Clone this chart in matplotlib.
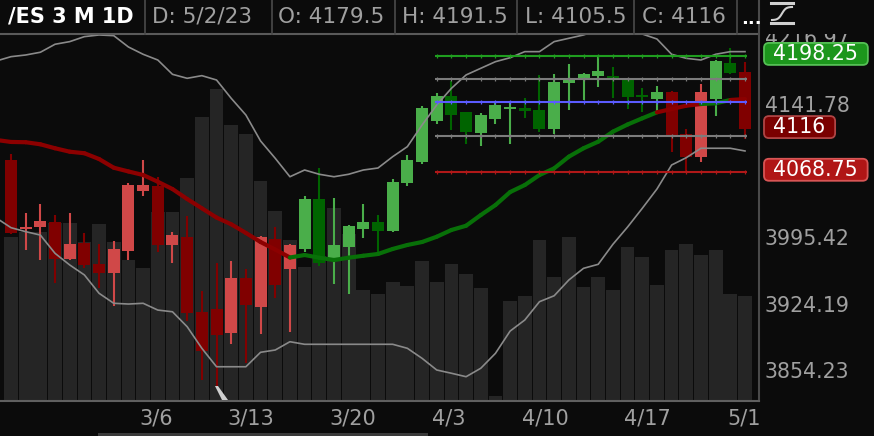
import numpy as np
import matplotlib
matplotlib.use("Agg")
import matplotlib.pyplot as plt
from matplotlib.collections import LineCollection
from matplotlib.patches import Rectangle, FancyBboxPatch, Polygon
from matplotlib.lines import Line2D
from matplotlib.transforms import IdentityTransform, blended_transform_factory, Bbox

# ---------------- data ----------------
symbol = "/ES 3 M 1D"
last_date = "5/2/23"

opens = [4081.7, 4005.9, 4008.1, 4014.1, 3973.7, 3991.3, 3968.8, 3958.7, 3982.3, 4047.6,
         4053.5, 3988.5, 3997.2, 3917.5, 3920.1, 3895.0, 3953.7, 3922.2, 3995.0, 3962.7,
         3984.2, 4038.6, 3975.1, 3986.3, 4005.9, 4014.1, 4004.0, 4056.4, 4079.8, 4124.7,
         4153.3, 4135.1, 4111.3, 4127.2, 4138.8, 4139.9, 4137.6, 4115.8, 4167.3, 4173.6,
         4175.9, 4175.9, 4172.1, 4153.8, 4149.3, 4157.8, 4110.5, 4085.0, 4149.3, 4189.9, 4179.5]
highs = [4088.0, 4024.0, 4033.2, 4021.4, 4024.0, 4002.2, 3989.6, 3993.5, 4056.4, 4081.4,
         4063.3, 4002.6, 4020.0, 3939.5, 3969.7, 3971.9, 3963.3, 3998.3, 4008.4, 3989.6,
         4041.9, 4072.5, 4039.7, 4010.3, 4033.2, 4021.4, 4060.8, 4087.2, 4141.4, 4156.4,
         4170.2, 4135.6, 4133.9, 4145.5, 4145.5, 4150.4, 4176.7, 4177.5, 4188.8, 4179.3,
         4197.8, 4186.0, 4173.5, 4161.7, 4163.9, 4158.5, 4116.1, 4166.5, 4193.3, 4206.9, 4191.5]
lows = [4000.5, 3983.4, 3972.3, 3947.7, 3972.5, 3964.4, 3943.0, 3923.6, 3972.3, 4041.9,
        3980.9, 3969.7, 3908.0, 3845.9, 3837.9, 3883.1, 3863.9, 3894.0, 3931.7, 3896.4,
        3981.2, 3966.2, 3947.0, 3936.3, 3996.1, 3981.2, 4003.0, 4053.1, 4077.3, 4121.7,
        4114.6, 4099.1, 4097.2, 4121.3, 4099.1, 4128.0, 4112.4, 4110.2, 4137.0, 4148.2,
        4163.5, 4150.4, 4138.4, 4134.7, 4135.4, 4090.2, 4068.8, 4079.2, 4130.3, 4177.5, 4105.5]
closes = [4001.5, 4008.4, 4014.6, 3973.7, 3990.3, 3967.3, 3958.7, 3984.2, 4053.9, 4053.9,
          3988.8, 3999.4, 3915.8, 3876.1, 3892.9, 3953.7, 3924.6, 3997.2, 3945.9, 3988.5,
          4038.9, 3969.7, 3988.5, 4009.8, 4014.1, 4004.0, 4057.8, 4082.0, 4139.9, 4153.3,
          4131.7, 4113.1, 4131.4, 4142.6, 4141.0, 4136.2, 4115.8, 4169.1, 4171.4, 4178.1,
          4180.8, 4172.5, 4151.9, 4151.5, 4157.8, 4109.4, 4085.4, 4157.8, 4192.5, 4178.6, 4116.0]
trend = list("RRRRRRRRRRRRRRRRRRRR" "GGGGGGGGGGGGGGGGGGGGGGGGG" "RRR" "GG" "R")
volume = [1306, 1352, 1352, 1422, 1422, 1270, 1416, 1270, 1128, 1062,
          1504, 1504, 1782, 2262, 2488, 2202, 2134, 1754, 1514, 1288,
          1072, 1154, 1542, 1336, 888, 856, 952, 920, 1114, 952,
          1096, 1016, 902, 42, 794, 840, 1288, 986, 1306, 906,
          986, 888, 1226, 1146, 922, 1208, 1256, 1162, 1208, 856, 840]
# studies start one bar before the first visible candle
ma = [4103.9, 4101.7, 4101.4, 4099.1, 4094.7, 4090.9, 4089.2, 4082.8, 4073.2, 4069.1, 4065.2,
      4057.8, 4049.8, 4038.9, 4028.8, 4018.7, 4011.4, 4002.0, 3992.2, 3984.1, 3975.5,
      3978.2, 3975.3, 3972.8, 3975.3, 3977.4, 3979.3, 3984.7, 3989.0, 3992.2, 3997.9,
      4005.2, 4009.8, 4021.4, 4032.3, 4046.5, 4054.2, 4065.2, 4072.5, 4085.4, 4094.7,
      4102.0, 4113.1, 4121.1, 4128.0, 4134.7, 4138.4, 4142.1, 4144.0, 4144.8, 4148.5, 4149.6]
bb_upper = [4192.5, 4197.4, 4199.3, 4202.4, 4211.5, 4214.5, 4220.2, 4222.1, 4221.3, 4208.4, 4200.1,
            4193.6, 4177.4, 4172.9, 4175.9, 4171.0, 4150.4, 4131.7, 4102.8, 4083.6, 4063.3,
            4070.7, 4066.0, 4063.3, 4066.0, 4070.7, 4072.9, 4085.4, 4096.5, 4120.5, 4142.9,
            4161.6, 4176.7, 4184.2, 4191.7, 4196.2, 4203.1, 4203.1, 4214.5, 4218.3, 4222.1,
            4227.8, 4230.1, 4229.0, 4223.2, 4217.5, 4200.1, 4195.5, 4193.6, 4200.1, 4203.1, 4203.1]
bb_lower = [4018.2, 4007.7, 4003.4, 3999.7, 3980.0, 3967.5, 3956.8, 3937.2, 3926.6, 3925.8, 3926.6,
            3919.4, 3917.6, 3901.8, 3879.1, 3859.8, 3859.8, 3859.8, 3874.9, 3877.3, 3886.0,
            3883.3, 3883.3, 3883.3, 3883.3, 3883.3, 3883.3, 3883.3, 3879.1, 3868.6, 3856.4,
            3853.0, 3849.4, 3858.2, 3873.8, 3897.2, 3908.9, 3928.3, 3934.6, 3951.4, 3963.9,
            3968.2, 3989.7, 4008.4, 4028.7, 4049.8, 4076.2, 4084.3, 4094.7, 4094.7, 4094.7, 4091.7]
level_values = [4198.25, 4172.25, 4146.0, 4108.0, 4068.75]
level_from_bar = 29
price_ticks = [4216.97, 4141.78, 3995.42, 3924.19, 3854.23]
tag_values = [4198.25, 4116.0, 4068.75]
tag_texts = ["4198.25", "4116", "4068.75"]
date_labels = ["3/6", "3/13", "3/20", "4/3", "4/10", "4/17", "5/1"]
date_label_pos = [9.88, 16.35, 23.3, 29.84, 36.38, 43.33, 49.93]
price_top, price_bottom = 4223.2, 3824.2
volume_top = 2928

# ---------------- style / layout ----------------
W, H = 874, 436
BG = "#0b0b0b"
PL, PR, PT, PB = 0, 758, 34, 401
BAR0_X, BAR_STEP = 11.0, 14.68
LR, DR, LG, DG = "#d04848", "#800000", "#4aae4a", "#006400"
MA_R, MA_G = "#8c0000", "#087008"
level_colors = ["#1f9d1f", "#7c7c7c", "#5b5bff", "#7c7c7c", "#b01818"]
tag_fc = ["#1c961c", "#7a0000", "#b01616"]
tag_ec = ["#55c055", "#b04545", "#d85555"]
GRAY_TXT = "#a0a0a0"
FONT = "DejaVu Sans"


def fy(y):
    return (H - y) / H


def fx(x):
    return x / W


fig = plt.figure(figsize=(W / 100, H / 100), dpi=100, facecolor=BG)
rect = [fx(PL), fy(PB), fx(PR - PL), (PB - PT) / H]
ax_vol = fig.add_axes(rect, zorder=0)
ax = fig.add_axes(rect, zorder=1)
n = len(closes)
idx = np.arange(n)
xlim = ((PL - BAR0_X) / BAR_STEP, (PR - BAR0_X) / BAR_STEP)
for a in (ax_vol, ax):
    a.set_xlim(*xlim)
    a.set_axis_off()
ax_vol.set_ylim(0, volume_top)
ax.set_yscale("log")
ax.set_ylim(price_bottom, price_top)

# volume
ax_vol.bar(idx, volume, width=0.94, color="#252525", linewidth=0)

# candles
for i in range(n):
    o, h, l, c = opens[i], highs[i], lows[i], closes[i]
    up = c >= o
    if trend[i] == "G":
        col = LG if up else DG
    else:
        col = LR if up else DR
    ax.vlines(i, l, h, color=col, lw=1.5, zorder=2)
    lo, hi = min(o, c), max(o, c)
    if hi - lo < 1.8:
        mid = (hi + lo) / 2
        lo, hi = mid - 0.9, mid + 0.9
    ax.add_patch(Rectangle((i - 0.41, lo), 0.82, hi - lo, facecolor=col,
                           edgecolor="none", zorder=2.1))

# bollinger bands + middle line
xs = np.arange(-1, n)
ax.plot(xs, bb_upper, color="#8a8a8a", lw=1.2, zorder=3)
ax.plot(xs, bb_lower, color="#8a8a8a", lw=1.2, zorder=3)
segs = [[(xs[k], ma[k]), (xs[k + 1], ma[k + 1])] for k in range(n)]
seg_cols = [MA_G if trend[k] == "G" else MA_R for k in range(n)]
ax.add_collection(LineCollection(segs, colors=seg_cols, linewidths=3.0,
                                 capstyle="round", zorder=3.5))

# level lines
for v, col in zip(level_values, level_colors):
    ax.hlines(v, level_from_bar - 0.12, n - 1 + 0.15, color=col, lw=1.5, zorder=4)
    ax.plot(np.arange(level_from_bar, n), [v] * (n - level_from_bar), ls="none",
            marker="|", ms=3.0, mew=0.9, color=col, zorder=4)

# price tags (positions first, to clip the partly hidden top label)
renderer = fig.canvas.get_renderer()
tag_tops = []
for v, s, fc, ec in zip(tag_values, tag_texts, tag_fc, tag_ec):
    yc = ax.transData.transform((0, v))[1] + 2
    tag_tops.append(yc + 11)
    t = fig.text(773.5, yc, s, transform=IdentityTransform(), color="white",
                 fontsize=14.8, ha="left", va="center", family=FONT, zorder=4.6)
    bb = t.get_window_extent(renderer)
    fig.add_artist(FancyBboxPatch((764, yc - 11), bb.width + 19, 22,
                                  boxstyle="round,pad=0,rounding_size=5",
                                  facecolor=fc, edgecolor=ec, lw=1.3,
                                  transform=IdentityTransform(), zorder=4.5))

# right price labels (visible strip only: between header and top tag)
ytrans = blended_transform_factory(fig.transFigure, ax.transData)
visible = Bbox.from_extents(759, max(tag_tops) + 0.5, W, H - PT)
for v in price_ticks:
    t = fig.text(fx(765), v, f"{v:.2f}", transform=ytrans, color=GRAY_TXT, fontsize=14.8,
                 ha="left", va="center", family=FONT, zorder=3)
    if ax.transData.transform((0, v))[1] > max(tag_tops):
        t.set_clip_box(visible)
        t.set_clip_on(True)

# header
fig.add_artist(Rectangle((0, fy(PT)), 1, PT / H, transform=fig.transFigure,
                         facecolor=BG, edgecolor="none", zorder=5))
fig.add_artist(Line2D([0, fx(PR)], [fy(PT)] * 2, transform=fig.transFigure,
                      color="#5a5a5a", lw=1.5, zorder=6))
for sx in [145, 271.5, 394.6, 517, 634, 737]:
    fig.add_artist(Line2D([fx(sx)] * 2, [fy(0), fy(PT)], transform=fig.transFigure,
                          color="#4a4a4a", lw=1.2, zorder=6))
fig.add_artist(Line2D([fx(PR + 0.5)] * 2, [fy(0), fy(PB)], transform=fig.transFigure,
                      color="#4a4a4a", lw=1.5, zorder=6))
fig.add_artist(Line2D([0, fx(PR + 0.5)], [fy(PB)] * 2, transform=fig.transFigure,
                      color="#606060", lw=1.5, zorder=6))

fig.text(fx(8), fy(17), symbol, color="white", fontsize=15, fontweight="bold",
         ha="left", va="center", family=FONT, zorder=7)
header_items = [f"D: {last_date}", f"O: {opens[-1]:g}", f"H: {highs[-1]:g}",
                f"L: {lows[-1]:g}", f"C: {closes[-1]:g}"]
for hx, s in zip([152, 278, 402, 525, 642], header_items):
    fig.text(fx(hx), fy(17), s, color=GRAY_TXT, fontsize=15.5, ha="left",
             va="center", family=FONT, zorder=7)
fig.text(fx(741), fy(19), "...", color="white", fontsize=13, fontweight="bold",
         ha="left", va="center", family=FONT, zorder=7)

# study icon
ic = "#d0d0d0"
fig.add_artist(Line2D([fx(771), fx(793)], [fy(3)] * 2, transform=fig.transFigure,
                      color=ic, lw=2.2, zorder=7))
fig.add_artist(Line2D([fx(771), fx(793)], [fy(23)] * 2, transform=fig.transFigure,
                      color=ic, lw=2.2, zorder=7))
tt = np.linspace(0, 1, 40)
fig.add_artist(Line2D(fx(772 + 20 * tt), fy(13.5 - 6.5 * np.tanh(5 * (tt - 0.5)) / np.tanh(2.5)),
                      transform=fig.transFigure, color=ic, lw=1.5, zorder=7))

# date labels
xtrans = blended_transform_factory(ax.transData, fig.transFigure)
for p, s in zip(date_label_pos, date_labels):
    fig.text(p, fy(418.5), s, transform=xtrans, color=GRAY_TXT, fontsize=15,
             ha="center", va="center", family=FONT, zorder=3)

# scrollbar + cursor
fig.add_artist(Rectangle((fx(98), 0), fx(330), 3.5 / H, transform=fig.transFigure,
                         facecolor="#3a3a3a", edgecolor="none", zorder=6))
cur = [(215, 386), (218, 386), (228, 400), (222, 400)]
fig.add_artist(Polygon([(x, H - y) for x, y in cur], closed=True,
                       transform=IdentityTransform(), facecolor="#cfcfcf",
                       edgecolor="none", zorder=6))

fig.savefig("out.png", dpi=100, facecolor=BG)
